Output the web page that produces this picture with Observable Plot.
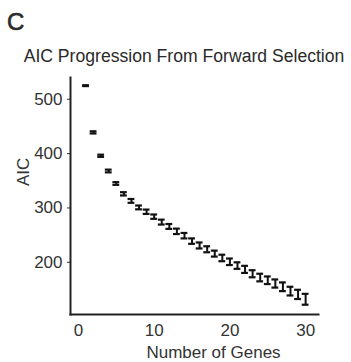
<!DOCTYPE html>
<html>
<head>
<meta charset="utf-8">
<script src="https://cdn.jsdelivr.net/npm/d3@7"></script>
<script src="https://cdn.jsdelivr.net/npm/@observablehq/plot@0.6"></script>
<style>
  html, body { margin: 0; padding: 0; background: #fff; }
  #wrap { position: relative; width: 351px; height: 362px; font-family: "Liberation Sans", Arial, sans-serif; color: #2a2a2a; }
  #panel { position: absolute; left: 7px; top: 7px; font-size: 24px; font-weight: normal; line-height: 30px; -webkit-text-stroke: 0.6px #2a2a2a; }
  #title { position: absolute; left: 0; width: 368px; top: 46px; text-align: center; font-size: 17.6px; line-height: 20px; }
  #chart { position: absolute; left: 0; top: 68px; }
</style>
</head>
<body>
<div id="wrap">
  <div id="panel">C</div>
  <div id="title">AIC Progression From Forward Selection</div>
  <div id="chart"></div>
</div>
<script>
const genes = [1,2,3,4,5,6,7,8,9,10,11,12,13,14,15,16,17,18,19,20,21,22,23,24,25,26,27,28,29,30];
const aic = [525,439,396,368,345,326,313,301,293,284,274,266,257,249,239,231,224,216,208,201,194,187,179,172,167,161,155,147,141,132];
const err = [0.8,2,2,2.5,2.5,3,3.5,3.5,4,4,4.5,4.5,5,5,5,5.5,5.5,5.5,6,6,6,6.5,6.5,7,7,7.5,8,8,8.5,10];
const xTicks = [0,10,20,30];
const yTicks = [200,300,400,500];

const data = genes.map((g, i) => ({x: g, y: aic[i], lo: aic[i] - err[i], hi: aic[i] + err[i]}));
const capHalf = 0.45;

const plot = Plot.plot({
  width: 351,
  height: 294,
  marginTop: 9,
  marginBottom: 48,
  marginLeft: 70,
  marginRight: 33,
  style: {fontFamily: "Liberation Sans, Arial, sans-serif", fontSize: "17px", color: "#333", background: "transparent", overflow: "visible"},
  x: {domain: [-1.05, 31.7]},
  y: {domain: [104, 540]},
  marks: [
    Plot.axisY({ticks: yTicks, tickSize: 3, tickPadding: 5, label: null, stroke: "#333"}),
    Plot.axisX({ticks: xTicks, tickSize: 0, tickPadding: 9, label: null}),
    Plot.ruleX(data, {x: "x", y1: "lo", y2: "hi", stroke: "#111", strokeWidth: 2}),
    Plot.ruleY(data, {y: "lo", x1: d => d.x - capHalf, x2: d => d.x + capHalf, stroke: "#111", strokeWidth: 2.2}),
    Plot.ruleY(data, {y: "hi", x1: d => d.x - capHalf, x2: d => d.x + capHalf, stroke: "#111", strokeWidth: 2.2}),
    Plot.frame({anchor: "left", stroke: "#222", strokeWidth: 2}),
    Plot.frame({anchor: "bottom", stroke: "#222", strokeWidth: 2}),
    Plot.text(["Number of Genes"], {frameAnchor: "bottom", dx: 19, dy: 43, lineAnchor: "bottom", fontSize: 17, fill: "#333"}),
    Plot.text(["AIC"], {frameAnchor: "left", dx: -47, dy: -10, rotate: -90, fontSize: 17, fill: "#333"})
  ]
});
document.getElementById("chart").appendChild(plot);
</script>
</body>
</html>
